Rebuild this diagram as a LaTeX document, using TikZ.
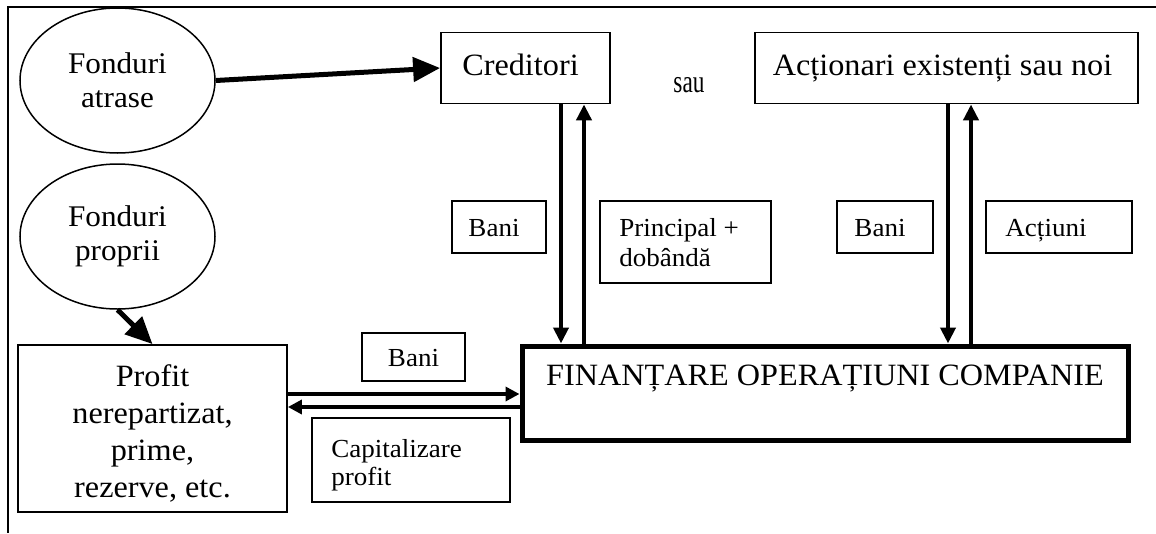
\documentclass[tikz,border=0pt]{standalone}
\usepackage{fontspec}
\setmainfont{Liberation Serif}[FakeStretch=1.04]
\usetikzlibrary{arrows.meta,shapes.geometric}
\newcommand\mainfs{\fontsize{31}{34}\selectfont}
\newcommand\finfs{\fontsize{31}{34}\selectfont}
\newcommand\ovalfs{\fontsize{30}{34}\selectfont}
\newcommand\proffs{\fontsize{31}{37.3}\selectfont}
\newcommand\lblfs{\fontsize{26}{30}\selectfont}
\newcommand\capfs{\fontsize{26}{28}\selectfont}
\newcommand\saufs{\fontsize{32}{36}\selectfont}
\tikzset{
  box/.style={draw, line width=1.8pt, inner sep=0pt, align=center},
  topbox/.style={box, font=\mainfs, text height=21pt, text depth=7pt},
  lblbox/.style={box, font=\lblfs, text height=20pt, text depth=2pt},
  finbox/.style={draw, line width=5pt, inner sep=0pt},
  oval/.style={ellipse, draw, line width=1.5pt, minimum width=195pt, minimum height=145pt, inner sep=0pt, align=center, font=\ovalfs},
  bigarr/.style={line width=5pt, -{Triangle[length=27pt,width=24pt]}},
  varr/.style={line width=4.5pt, -{Triangle[length=16pt,width=15pt]}},
  harr/.style={line width=4pt, -{Triangle[length=14pt,width=14pt]}},
  txt/.style={inner sep=0pt, align=left}
}
\begin{document}
\begin{tikzpicture}[x=1pt,y=-1pt]
\useasboundingbox (0,0) rectangle (1156,533);
% frame
\draw[line width=1.5pt] (1156,7) -- (8,7) -- (8,533);
% ovals
\node[oval] (fa) at (117.5,80.5) {Fonduri\\atrase};
\node[oval] (fp) at (117.5,236.5) {Fonduri\\proprii};
% top boxes
\node[topbox, minimum width=169pt, minimum height=71pt] (cred) at (525.5,68) {\hspace*{-10pt}Creditori};
\node[inner sep=0pt, anchor=base, font=\saufs, xscale=0.7, transform shape] (sau) at (689,92) {sau};
\node[topbox, minimum width=383pt, minimum height=71pt] (act) at (946.5,68) {\hspace*{-8pt}Acționari existenți sau noi};
% label boxes
\node[lblbox, minimum width=94pt, minimum height=52pt] (b1) at (499,227) {\hspace*{-10pt}Bani};
\node[box, minimum width=171pt, minimum height=82pt] (pd) at (685.5,242) {};
\node[txt, anchor=north west, font=\lblfs] (pdt) at ([shift={(20,18)}]pd.north west) {Principal +\\dobândă};
\node[lblbox, minimum width=96pt, minimum height=52pt] (b2) at (885,227) {\hspace*{-10pt}Bani};
\node[lblbox, minimum width=146pt, minimum height=52pt] (ac) at (1059,227) {\hspace*{-26pt}Acțiuni};
% main box
\node[finbox, minimum width=606pt, minimum height=94pt] (fin) at (825,393) {};
\node[inner sep=0pt, anchor=base, font=\finfs] (fint) at (825,385) {FINANȚARE OPERAȚIUNI COMPANIE};
% profit box
\node[box, minimum width=269pt, minimum height=167pt] (pr) at (152.5,428.5) {};
\node[inner sep=0pt, anchor=north, align=center, font=\proffs] (prt) at (152.5,364) {Profit\\nerepartizat,\\prime,\\rezerve, etc.};
\node[lblbox, minimum width=103pt, minimum height=48pt] (b3) at (413.5,357) {Bani};
\node[box, minimum width=198pt, minimum height=84pt] (cap) at (411,460) {};
\node[txt, anchor=north west, font=\capfs] (capt) at ([shift={(20,22)}]cap.north west) {Capitalizare\\profit};
% arrows
\draw[bigarr] (fa.east) -- (cred.west);
\draw[bigarr] (fp.south) -- (pr.north);
\coordinate (c1) at ([xshift=35.5pt]cred.south);
\coordinate (c2) at ([xshift=58.5pt]cred.south);
\coordinate (c3) at ([xshift=1.5pt]act.south);
\coordinate (c4) at ([xshift=24.5pt]act.south);
\draw[varr] (c1) -- (c1 |- fin.north);
\draw[varr] (c2 |- fin.north) -- (c2);
\draw[varr] (c3) -- (c3 |- fin.north);
\draw[varr] (c4 |- fin.north) -- (c4);
\coordinate (h1) at (0,394);
\coordinate (h2) at (0,407);
\draw[harr] (pr.east |- h1) -- (fin.west |- h1);
\draw[harr] (fin.west |- h2) -- (pr.east |- h2);
\end{tikzpicture}
\end{document}
